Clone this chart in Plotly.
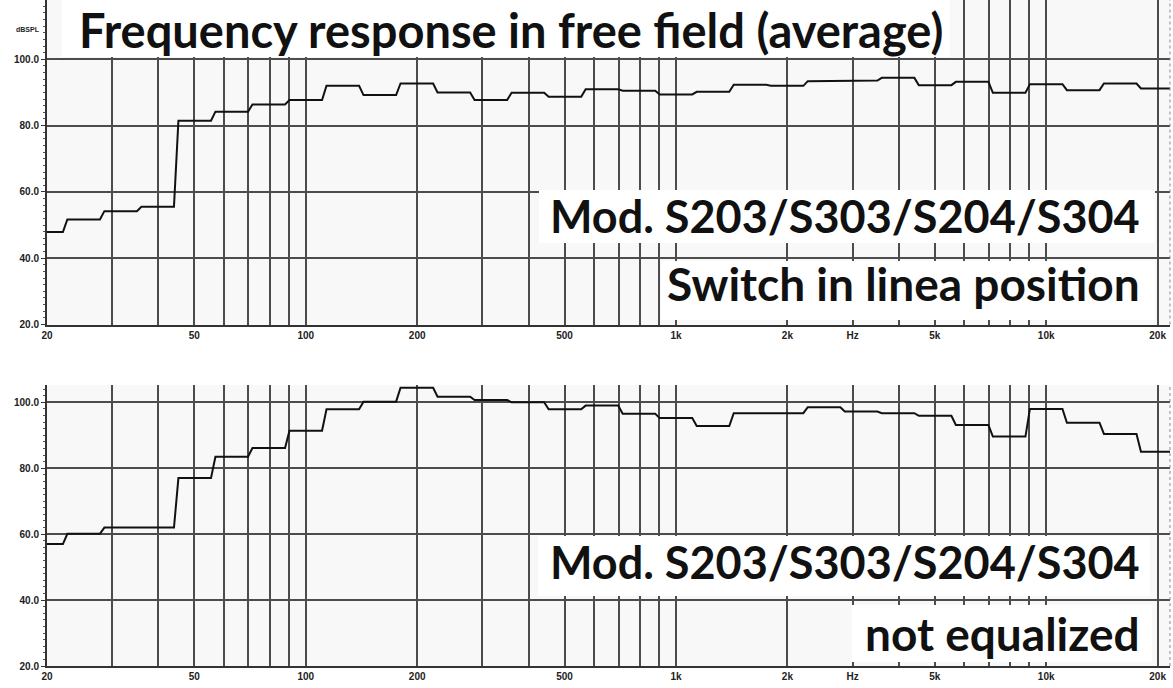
import numpy as np
import plotly.graph_objects as go

# ---------------- data (1/3-octave band levels) ----------------
band_centers = [20, 25, 31.5, 40, 50, 63, 80, 100, 125, 160, 200, 250, 315, 400, 500,
                630, 800, 1000, 1250, 1600, 2000, 2500, 3150, 4000, 5000, 6300, 8000,
                10000, 12500, 16000, 20000]

level_linea = [47.9, 51.7, 54.2, 55.5, 81.5, 84.2, 86.4, 87.7, 92.0, 89.2, 92.7, 90.0,
               87.7, 89.9, 88.7, 91.0, 90.5, 89.4, 90.2, 92.3, 92.0, 93.4, 93.6, 94.4,
               92.2, 93.2, 89.9, 92.5, 90.7, 92.7, 91.2]

level_noeq = [57.0, 60.1, 62.0, 62.0, 77.0, 83.5, 86.1, 91.4, 97.9, 100.2, 104.4, 101.7,
              100.7, 100.0, 97.9, 99.0, 96.5, 95.2, 92.8, 96.7, 96.7, 98.5, 97.2, 96.7,
              95.9, 93.1, 89.6, 98.0, 93.8, 90.4, 85.0]

grid_freqs = [20, 30, 40, 50, 60, 70, 80, 90, 100, 200, 300, 400, 500, 600, 700, 800, 900,
              1000, 2000, 3000, 4000, 5000, 6000, 7000, 8000, 9000, 10000, 20000]
freq_labels = {20: "20", 50: "50", 100: "100", 200: "200", 500: "500", 1000: "1k",
               2000: "2k", 3000: "Hz", 5000: "5k", 10000: "10k", 20000: "20k"}
y_ticks = [20, 40, 60, 80, 100]
y_labels = ["20.0", "40.0", "60.0", "80.0", "100.0"]

title_text = "Frequency response in free field (average)"
top_texts = ["Mod. S203/S303/S204/S304", "Switch in linea position"]
bottom_texts = ["Mod. S203/S303/S204/S304", "not equalized"]

F_MIN, F_MAX = 20, 21600


def step_line(centers, levels):
    xs, ys = [], []
    for c, lv in zip(centers, levels):
        n = round(10 * np.log10(c))
        lo = 10 ** ((n - 0.5 + 0.06) / 10)
        hi = 10 ** ((n + 0.5 - 0.06) / 10)
        lo = max(lo, F_MIN)
        hi = min(hi, F_MAX)
        xs += [lo, hi]
        ys += [lv, lv]
    return xs, ys


# ---------------- layout geometry (pixels) ----------------
W, H = 1173, 688
ML, MR, MT, MB = 47, 3, 0, 22
PW, PH = W - ML - MR, H - MT - MB


def px(x):
    return (x - ML) / PW


def py(y):
    return 1 - (y - MT) / PH


GRID = "#4c4c4c"
fig = go.Figure()

x1, y1 = step_line(band_centers, level_linea)
x2, y2 = step_line(band_centers, level_noeq)

fig.add_trace(go.Scatter(x=x1, y=y1, mode="lines", line=dict(color="#111111", width=2),
                         xaxis="x2", yaxis="y2", showlegend=False, hoverinfo="skip"))
fig.add_trace(go.Scatter(x=x2, y=y2, mode="lines", line=dict(color="#111111", width=2),
                         xaxis="x", yaxis="y", showlegend=False, hoverinfo="skip"))

tickfont = dict(family="Liberation Sans Narrow, Liberation Sans, Arial", size=10, color="#222222")
xtext = ["<b>%s</b>" % freq_labels.get(f, "") for f in grid_freqs]

xcommon = dict(type="log", range=[np.log10(F_MIN), np.log10(F_MAX)], tickmode="array",
               tickvals=grid_freqs, ticktext=xtext, showgrid=True, gridcolor=GRID, gridwidth=2,
               showline=True, linecolor="#333333", linewidth=2, ticks="", tickfont=tickfont,
               zeroline=False, fixedrange=True, automargin=False)
ycommon = dict(tickmode="array", tickvals=y_ticks, ticktext=["<b>%s</b>" % t for t in y_labels],
               showgrid=True, gridcolor=GRID, gridwidth=2, showline=True, linecolor="#333333",
               linewidth=2, ticks="outside", ticklen=4, tickcolor="#333333", tickfont=tickfont,
               minor=dict(dtick=2, ticklen=2, tickcolor="#555555", ticks="outside", showgrid=False),
               zeroline=False, fixedrange=True, automargin=False)

top_lo = py(324.5)
bot_hi = py(385)
fig.update_layout(
    width=W, height=H,
    margin=dict(l=ML, r=MR, t=MT, b=MB, autoexpand=False),
    paper_bgcolor="#ffffff",
    plot_bgcolor="#f7f8f7",
    xaxis=dict(domain=[0, 1], anchor="y", **xcommon),
    yaxis=dict(domain=[0, bot_hi], anchor="x", range=[20, 20 + (666 - 385) * 80 / 263.7], **ycommon),
    xaxis2=dict(domain=[0, 1], anchor="y2", **xcommon),
    yaxis2=dict(domain=[top_lo, 1], anchor="x2", range=[20, 20 + 324.5 * 80 / 265.2], **ycommon),
    showlegend=False,
)

# white label boxes (pixel boxes -> paper coordinates)
boxes = [(62, 950, 0, 57), (539, 1155, 190, 243), (661, 1155, 261, 320),
         (538, 1150, 536, 596), (852, 1152, 605, 662)]
shapes = []
for bx0, bx1, by0, by1 in boxes:
    shapes.append(dict(type="rect", xref="paper", yref="paper", x0=px(bx0), x1=px(bx1),
                       y0=py(by1), y1=py(by0), fillcolor="#ffffff", line=dict(width=0),
                       layer="above"))
# light dotted right border of each panel
for y0, y1 in [(0, bot_hi), (top_lo, 1)]:
    shapes.append(dict(type="line", xref="paper", yref="paper", x0=1, x1=1, y0=y0, y1=y1,
                       line=dict(color="#888888", width=1, dash="dot"), layer="above"))
fig.update_layout(shapes=shapes)

FONT_BIG = "Lato, Open Sans, sans-serif"
ann = []
ann.append(dict(text="<b>%s</b>" % title_text, xref="paper", yref="paper", x=px(77), y=py(29.5),
                xanchor="left", yanchor="middle", showarrow=False,
                font=dict(family=FONT_BIG, size=47, color="#111111")))
for txt, ymid, sz in zip(top_texts, [215.5, 284], [45, 46]):
    ann.append(dict(text="<b>%s</b>" % txt, xref="paper", yref="paper", x=px(1142), y=py(ymid),
                    xanchor="right", yanchor="middle", showarrow=False,
                    font=dict(family=FONT_BIG, size=sz, color="#111111")))
for txt, ymid, sz in zip(bottom_texts, [562, 633], [45, 46]):
    ann.append(dict(text="<b>%s</b>" % txt, xref="paper", yref="paper", x=px(1142), y=py(ymid),
                    xanchor="right", yanchor="middle", showarrow=False,
                    font=dict(family=FONT_BIG, size=sz, color="#111111")))
ann.append(dict(text="<b>dBSPL</b>", xref="paper", yref="paper", x=px(28), y=py(30),
                xanchor="center", yanchor="middle", showarrow=False,
                font=dict(family="Liberation Sans Narrow, Liberation Sans, Arial", size=7, color="#222222")))
fig.update_layout(annotations=ann)

fig.write_html("out.html", config={"displayModeBar": False},
               post_script="document.body.style.margin='0';document.body.style.overflow='hidden';")
